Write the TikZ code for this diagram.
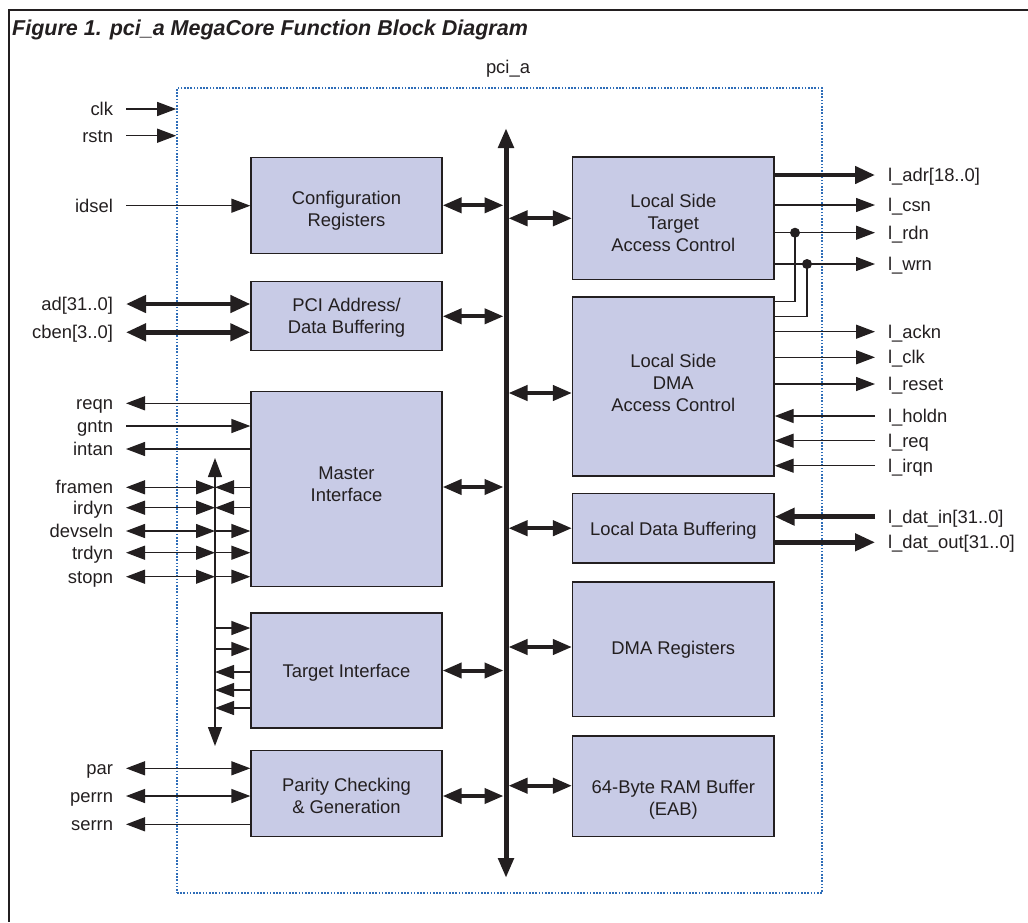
\documentclass[tikz,border=0pt]{standalone}
\usepackage{fontspec}
\setmainfont{Liberation Sans}
\usetikzlibrary{arrows.meta}
\definecolor{ink}{HTML}{231F20}
\definecolor{blockfill}{HTML}{C8CBE6}
\definecolor{dotblue}{HTML}{2E6DB8}
\newcommand{\topstrutx}{\rule{0pt}{13.6pt}}
\newcommand{\botstrutx}{\rule[-4pt]{0pt}{4pt}}
\tikzset{
  fnt/.style={font=\fontsize{18.4}{22}\selectfont, text=ink},
  lbl/.style={fnt, inner sep=0pt, text height=13pt, text depth=0pt},
  lft/.style={lbl, anchor=east, outer xsep=13pt},
  rgt/.style={lbl, anchor=west, outer xsep=13pt},
  blk/.style={draw=ink, line width=1.3pt, fill=blockfill, inner sep=0pt},
  btxt/.style={fnt, align=center, inner sep=0pt},
  wire/.style={draw=ink, line width=1.3pt},
  sig/.style={wire, -{Triangle[length=19pt,width=14pt]}},
  sigd/.style={wire, {Triangle[length=19pt,width=14pt]}-{Triangle[length=19pt,width=14pt]}},
  thk/.style={draw=ink, line width=4.5pt, -{Triangle[length=20pt,width=17pt]}},
  thkd/.style={draw=ink, line width=4.5pt, {Triangle[length=20pt,width=17pt]}-{Triangle[length=20pt,width=17pt]}},
  busd/.style={draw=ink, line width=4pt, {Triangle[length=19pt,width=15pt]}-{Triangle[length=19pt,width=15pt]}},
  busline/.style={draw=ink, line width=5pt, {Triangle[length=20pt,width=15pt]}-{Triangle[length=20pt,width=15pt]}},
}
\begin{document}
\begin{tikzpicture}[x=1pt,y=-1pt]
\useasboundingbox (0,0) rectangle (1028,922);
% outer frame
\draw[ink, line width=2pt] (1028,10) -- (9,10) -- (9,922);
% title
\node[anchor=base west, inner sep=0pt, text=ink, font=\fontsize{21.5}{24}\selectfont\bfseries\itshape] (title) at (12,35)
  {Figure 1. pci\_a MegaCore Function Block Diagram};
% core box
\node[draw=dotblue, dash pattern=on 1.6pt off 1.6pt, line width=1.6pt, minimum width=645pt, minimum height=805pt, inner sep=0pt] (core) at (499.5,490.5) {};
\node[fnt, anchor=base, inner sep=0pt] (corename) at (508,73) {pci\_a};

% blocks
\node[blk, minimum width=191pt, minimum height=96pt] (cfg) at (346.5,205.3) {};
\node[blk, minimum width=191pt, minimum height=69pt] (pci) at (346.5,316.3) {};
\node[blk, minimum width=191pt, minimum height=195pt] (master) at (346.5,489.2) {};
\node[blk, minimum width=191pt, minimum height=115pt] (target) at (346.5,670.5) {};
\node[blk, minimum width=191pt, minimum height=86pt] (parity) at (346.5,793.6) {};
\node[blk, minimum width=201.5pt, minimum height=122.5pt] (lstac) at (673.3,218.3) {};
\node[blk, minimum width=201.5pt, minimum height=179pt] (dmaac) at (673.3,386.5) {};
\node[blk, minimum width=201.5pt, minimum height=69.7pt] (ldb) at (673.3,528.2) {};
\node[blk, minimum width=201.5pt, minimum height=134.5pt] (dmar) at (673.3,649.3) {};
\node[blk, minimum width=201.5pt, minimum height=100.7pt] (ram) at (673.3,786.3) {};

% block texts
\node[btxt] (cfgtext) at (346.5,211.1) {\topstrutx Configuration\\Registers\botstrutx};
\node[btxt] (pcitext) at (346.5,317.8) {\topstrutx PCI Address/\\Data Buffering\botstrutx};
\node[btxt] (mastertext) at (346.5,485.8) {\topstrutx Master\\Interface\botstrutx};
\node[btxt] (targettext) at (346.5,672.8) {\topstrutx Target Interface\botstrutx};
\node[btxt] (paritytext) at (346.5,797.8) {\topstrutx Parity Checking\\\& Generation\botstrutx};
\node[btxt] (lstactext) at (673.3,224.5) {\topstrutx Local Side\\Target\\Access Control\botstrutx};
\node[btxt] (dmaactext) at (673.3,384.5) {\topstrutx Local Side\\DMA\\Access Control\botstrutx};
\node[btxt] (ldbtext) at (673.3,530.8) {\topstrutx Local Data Buffering\botstrutx};
\node[btxt] (dmartext) at (673.3,649.8) {\topstrutx DMA Registers\botstrutx};
\node[btxt] (ramtext) at (673.3,799.5) {\topstrutx 64-Byte RAM Buffer\\(EAB)\botstrutx};

% internal bus
\coordinate (bustop) at (506,128);
\coordinate (busbot) at (506,878);
\draw[busline] (bustop) -- (busbot);

\draw[busd, shorten >=2.5pt] (cfg.east) -- (cfg.east -| bustop);
\draw[busd, shorten <=2.5pt] (lstac.west -| bustop) -- (lstac.west);
\draw[busd, shorten >=2.5pt] (pci.east) -- (pci.east -| bustop);
\draw[busd, shorten <=2.5pt] (bustop |- 0,393) -- (dmaac.west |- 0,393);
\draw[busd, shorten >=2.5pt] (master.east |- 0,487) -- (bustop |- 0,487);
\draw[busd, shorten <=2.5pt] (ldb.west -| bustop) -- (ldb.west);
\draw[busd, shorten <=2.5pt] (bustop |- 0,647) -- (dmar.west |- 0,647);
\draw[busd, shorten >=2.5pt] (target.east) -- (target.east -| bustop);
\draw[busd, shorten <=2.5pt] (bustop |- 0,785.7) -- (ram.west |- 0,785.7);
\draw[busd, shorten >=2.5pt] (parity.east |- 0,796) -- (bustop |- 0,796);

% left labels
\node[lft] (lclk) at (126,109) {clk};
\node[lft] (lrstn) at (126,135.7) {rstn};
\node[lft] (lidsel) at (126,205.7) {idsel};
\node[lft] (lad) at (126,304) {ad[31..0]};
\node[lft] (lcben) at (126,332.3) {cben[3..0]};
\node[lft] (lreqn) at (126,403.3) {reqn};
\node[lft] (lgntn) at (126,426) {gntn};
\node[lft] (lintan) at (126,449) {intan};
\node[lft] (lframen) at (126,487.3) {framen};
\node[lft] (lirdyn) at (126,507.7) {irdyn};
\node[lft] (ldevseln) at (126,531) {devseln};
\node[lft] (ltrdyn) at (126,552.7) {trdyn};
\node[lft] (lstopn) at (126,576.7) {stopn};
\node[lft] (lpar) at (126,768.3) {par};
\node[lft] (lperrn) at (126,796) {perrn};
\node[lft] (lserrn) at (126,824.3) {serrn};

% left connectors
\draw[sig] (lclk.east) -- (lclk.east -| core.west);
\draw[sig] (lrstn.east) -- (lrstn.east -| core.west);
\draw[sig] (lidsel.east) -- (lidsel.east -| cfg.west);
\draw[thkd] (lad.east) -- (lad.east -| pci.west);
\draw[thkd] (lcben.east) -- (lcben.east -| pci.west);
\draw[sig] (lreqn.east -| master.west) -- (lreqn.east);
\draw[sig] (lgntn.east) -- (lgntn.east -| master.west);
\draw[sig] (lintan.east -| master.west) -- (lintan.east);

\coordinate (vt) at (215,458);
\coordinate (vb) at (215,746);
\draw[sigd] (vt) -- (vb);

\draw[sigd] (lframen.east) -- (lframen.east -| vt);
\draw[sig] (lframen.east -| master.west) -- (lframen.east -| vt);
\draw[sigd] (lirdyn.east) -- (lirdyn.east -| vt);
\draw[sig] (lirdyn.east -| master.west) -- (lirdyn.east -| vt);
\draw[sigd] (ldevseln.east) -- (ldevseln.east -| vt);
\draw[sig] (ldevseln.east -| vt) -- (ldevseln.east -| master.west);
\draw[sigd] (ltrdyn.east) -- (ltrdyn.east -| vt);
\draw[sig] (ltrdyn.east -| vt) -- (ltrdyn.east -| master.west);
\draw[sigd] (lstopn.east) -- (lstopn.east -| vt);
\draw[sig] (lstopn.east -| vt) -- (lstopn.east -| master.west);

\draw[sig] (vt |- 0,628) -- (target.west |- 0,628);
\draw[sig] (vt |- 0,649) -- (target.west |- 0,649);
\draw[sig] (target.west |- 0,672) -- (vt |- 0,672);
\draw[sig] (target.west |- 0,690) -- (vt |- 0,690);
\draw[sig] (target.west |- 0,708) -- (vt |- 0,708);

\draw[sigd] (lpar.east) -- (lpar.east -| parity.west);
\draw[sigd] (lperrn.east) -- (lperrn.east -| parity.west);
\draw[sig] (lserrn.east -| parity.west) -- (lserrn.east);

% right labels
\node[rgt] (ladr) at (875,175) {l\_adr[18..0]};
\node[rgt] (lcsn) at (875,205) {l\_csn};
\node[rgt] (lrdn) at (875,232.7) {l\_rdn};
\node[rgt] (lwrn) at (875,264) {l\_wrn};
\node[rgt] (lackn) at (875,331.7) {l\_ackn};
\node[rgt] (llclk) at (875,357.3) {l\_clk};
\node[rgt] (lreset) at (875,384) {l\_reset};
\node[rgt] (lholdn) at (875,416) {l\_holdn};
\node[rgt] (lreq) at (875,440.7) {l\_req};
\node[rgt] (lirqn) at (875,465.7) {l\_irqn};
\node[rgt] (ldatin) at (875,516.7) {l\_dat\_in[31..0]};
\node[rgt] (ldatout) at (875,542.3) {l\_dat\_out[31..0]};

% right connectors
\draw[thk] (lstac.east |- ladr.west) -- (ladr.west);
\draw[sig] (lstac.east |- lcsn.west) -- (lcsn.west);
\draw[sig] (lstac.east |- lrdn.west) -- (lrdn.west);
\draw[sig] (lstac.east |- lwrn.west) -- (lwrn.west);
\coordinate (j1) at (795,232.7);
\coordinate (j2) at (807,264);
\draw[wire] (j1) |- (dmaac.east |- 0,301.7);
\draw[wire] (j2) |- (dmaac.east |- 0,316.7);
\fill[ink] (j1) circle (5pt);
\fill[ink] (j2) circle (5pt);
\draw[sig] (dmaac.east |- lackn.west) -- (lackn.west);
\draw[sig] (dmaac.east |- llclk.west) -- (llclk.west);
\draw[sig] (dmaac.east |- lreset.west) -- (lreset.west);
\draw[sig] (lholdn.west) -- (dmaac.east |- lholdn.west);
\draw[sig] (lreq.west) -- (dmaac.east |- lreq.west);
\draw[sig] (lirqn.west) -- (dmaac.east |- lirqn.west);
\draw[thk] (ldatin.west) -- (ldb.east |- ldatin.west);
\draw[thk] (ldb.east |- ldatout.west) -- (ldatout.west);
\end{tikzpicture}
\end{document}
